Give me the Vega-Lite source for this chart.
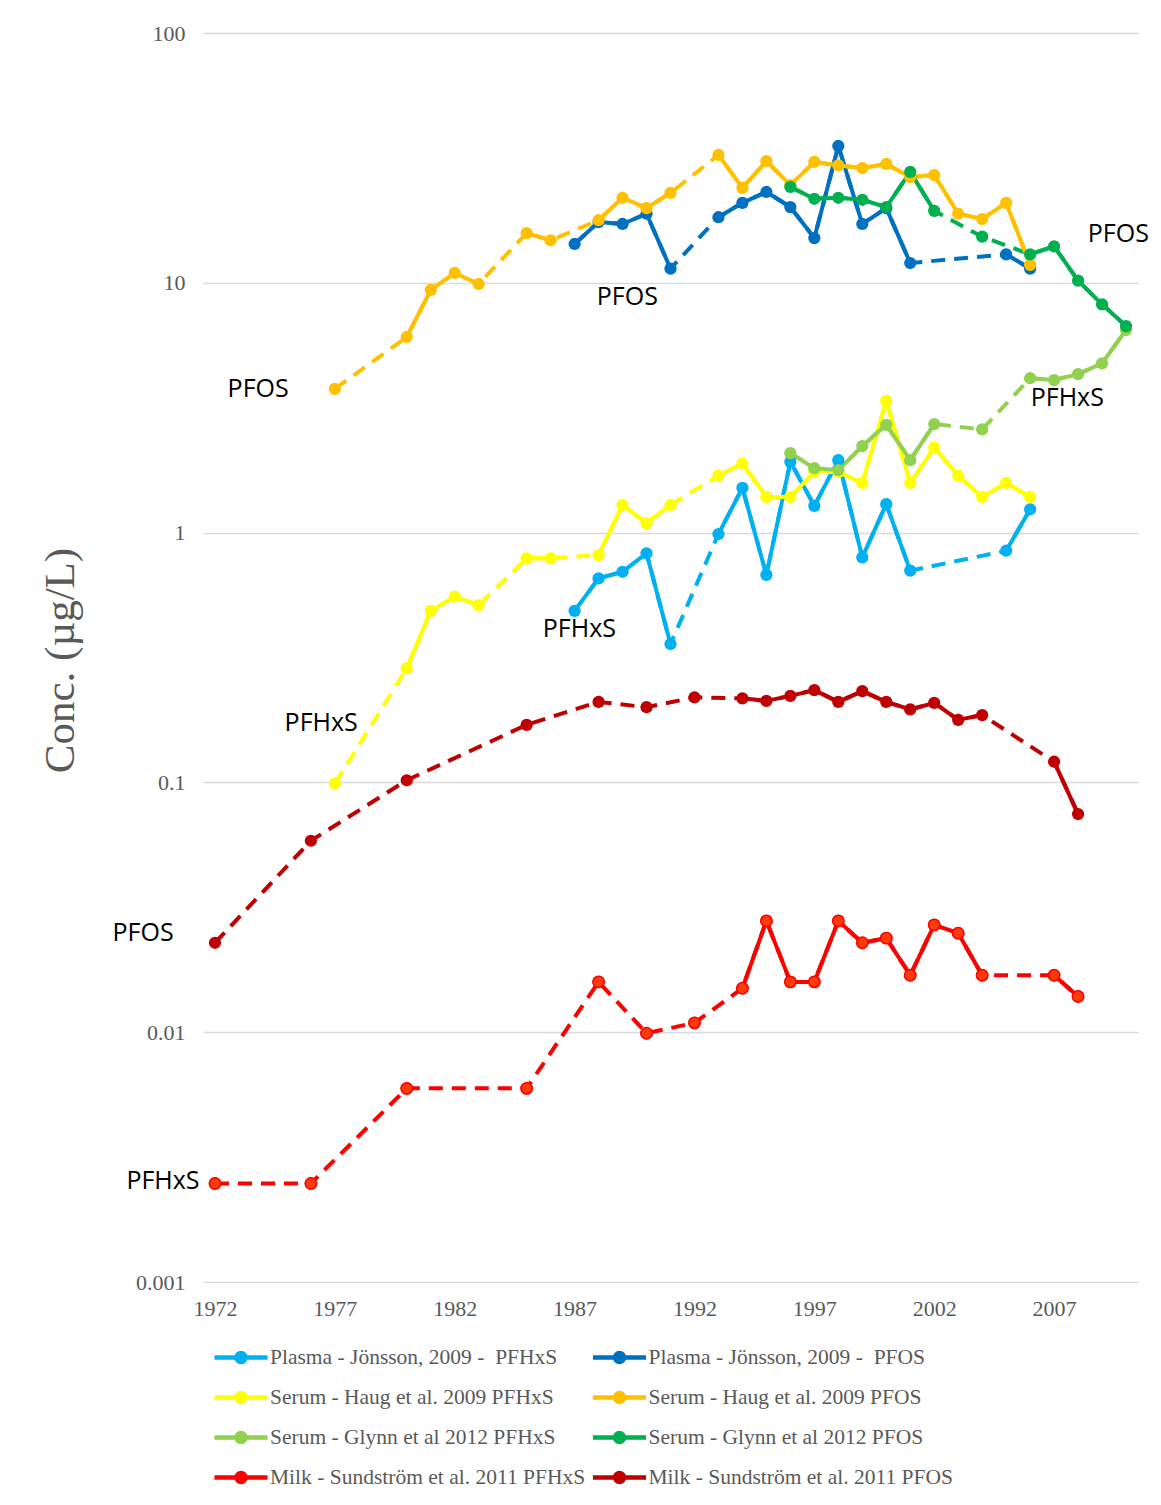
{
  "$schema": "https://vega.github.io/schema/vega-lite/v6.json",
  "width": 935,
  "height": 1249,
  "autosize": "none",
  "padding": {"left": 203, "top": 33, "right": 23, "bottom": 223},
  "background": "white",
  "config": {"view": {"stroke": null}},
  "datasets": {
    "conc": [
      {"s": "Plasma - Jönsson, 2009 -  PFHxS", "yr": 1987, "v": 0.486},
      {"s": "Plasma - Jönsson, 2009 -  PFHxS", "yr": 1988, "v": 0.656},
      {"s": "Plasma - Jönsson, 2009 -  PFHxS", "yr": 1989, "v": 0.697},
      {"s": "Plasma - Jönsson, 2009 -  PFHxS", "yr": 1990, "v": 0.826},
      {"s": "Plasma - Jönsson, 2009 -  PFHxS", "yr": 1991, "v": 0.358},
      {"s": "Plasma - Jönsson, 2009 -  PFHxS", "yr": 1993, "v": 0.987},
      {"s": "Plasma - Jönsson, 2009 -  PFHxS", "yr": 1994, "v": 1.51},
      {"s": "Plasma - Jönsson, 2009 -  PFHxS", "yr": 1995, "v": 0.677},
      {"s": "Plasma - Jönsson, 2009 -  PFHxS", "yr": 1996, "v": 1.92},
      {"s": "Plasma - Jönsson, 2009 -  PFHxS", "yr": 1997, "v": 1.28},
      {"s": "Plasma - Jönsson, 2009 -  PFHxS", "yr": 1998, "v": 1.95},
      {"s": "Plasma - Jönsson, 2009 -  PFHxS", "yr": 1999, "v": 0.796},
      {"s": "Plasma - Jönsson, 2009 -  PFHxS", "yr": 2000, "v": 1.30},
      {"s": "Plasma - Jönsson, 2009 -  PFHxS", "yr": 2001, "v": 0.704},
      {"s": "Plasma - Jönsson, 2009 -  PFHxS", "yr": 2005, "v": 0.846},
      {"s": "Plasma - Jönsson, 2009 -  PFHxS", "yr": 2006, "v": 1.24},

      {"s": "Plasma - Jönsson, 2009 -  PFOS", "yr": 1987, "v": 14.3},
      {"s": "Plasma - Jönsson, 2009 -  PFOS", "yr": 1988, "v": 17.5},
      {"s": "Plasma - Jönsson, 2009 -  PFOS", "yr": 1989, "v": 17.2},
      {"s": "Plasma - Jönsson, 2009 -  PFOS", "yr": 1990, "v": 18.9},
      {"s": "Plasma - Jönsson, 2009 -  PFOS", "yr": 1991, "v": 11.4},
      {"s": "Plasma - Jönsson, 2009 -  PFOS", "yr": 1993, "v": 18.3},
      {"s": "Plasma - Jönsson, 2009 -  PFOS", "yr": 1994, "v": 20.9},
      {"s": "Plasma - Jönsson, 2009 -  PFOS", "yr": 1995, "v": 23.1},
      {"s": "Plasma - Jönsson, 2009 -  PFOS", "yr": 1996, "v": 20.1},
      {"s": "Plasma - Jönsson, 2009 -  PFOS", "yr": 1997, "v": 15.1},
      {"s": "Plasma - Jönsson, 2009 -  PFOS", "yr": 1998, "v": 35.3},
      {"s": "Plasma - Jönsson, 2009 -  PFOS", "yr": 1999, "v": 17.2},
      {"s": "Plasma - Jönsson, 2009 -  PFOS", "yr": 2000, "v": 19.9},
      {"s": "Plasma - Jönsson, 2009 -  PFOS", "yr": 2001, "v": 12.0},
      {"s": "Plasma - Jönsson, 2009 -  PFOS", "yr": 2005, "v": 13.0},
      {"s": "Plasma - Jönsson, 2009 -  PFOS", "yr": 2006, "v": 11.4},

      {"s": "Serum - Haug et al. 2009 PFHxS", "yr": 1977, "v": 0.099},
      {"s": "Serum - Haug et al. 2009 PFHxS", "yr": 1980, "v": 0.286},
      {"s": "Serum - Haug et al. 2009 PFHxS", "yr": 1981, "v": 0.486},
      {"s": "Serum - Haug et al. 2009 PFHxS", "yr": 1982, "v": 0.554},
      {"s": "Serum - Haug et al. 2009 PFHxS", "yr": 1983, "v": 0.513},
      {"s": "Serum - Haug et al. 2009 PFHxS", "yr": 1985, "v": 0.789},
      {"s": "Serum - Haug et al. 2009 PFHxS", "yr": 1986, "v": 0.789},
      {"s": "Serum - Haug et al. 2009 PFHxS", "yr": 1988, "v": 0.813},
      {"s": "Serum - Haug et al. 2009 PFHxS", "yr": 1989, "v": 1.29},
      {"s": "Serum - Haug et al. 2009 PFHxS", "yr": 1990, "v": 1.09},
      {"s": "Serum - Haug et al. 2009 PFHxS", "yr": 1991, "v": 1.29},
      {"s": "Serum - Haug et al. 2009 PFHxS", "yr": 1993, "v": 1.69},
      {"s": "Serum - Haug et al. 2009 PFHxS", "yr": 1994, "v": 1.89},
      {"s": "Serum - Haug et al. 2009 PFHxS", "yr": 1995, "v": 1.39},
      {"s": "Serum - Haug et al. 2009 PFHxS", "yr": 1996, "v": 1.39},
      {"s": "Serum - Haug et al. 2009 PFHxS", "yr": 1997, "v": 1.75},
      {"s": "Serum - Haug et al. 2009 PFHxS", "yr": 1998, "v": 1.75},
      {"s": "Serum - Haug et al. 2009 PFHxS", "yr": 1999, "v": 1.58},
      {"s": "Serum - Haug et al. 2009 PFHxS", "yr": 2000, "v": 3.37},
      {"s": "Serum - Haug et al. 2009 PFHxS", "yr": 2001, "v": 1.58},
      {"s": "Serum - Haug et al. 2009 PFHxS", "yr": 2002, "v": 2.19},
      {"s": "Serum - Haug et al. 2009 PFHxS", "yr": 2003, "v": 1.69},
      {"s": "Serum - Haug et al. 2009 PFHxS", "yr": 2004, "v": 1.39},
      {"s": "Serum - Haug et al. 2009 PFHxS", "yr": 2005, "v": 1.58},
      {"s": "Serum - Haug et al. 2009 PFHxS", "yr": 2006, "v": 1.39},

      {"s": "Serum - Haug et al. 2009 PFOS", "yr": 1977, "v": 3.76},
      {"s": "Serum - Haug et al. 2009 PFOS", "yr": 1980, "v": 6.07},
      {"s": "Serum - Haug et al. 2009 PFOS", "yr": 1981, "v": 9.36},
      {"s": "Serum - Haug et al. 2009 PFOS", "yr": 1982, "v": 10.95},
      {"s": "Serum - Haug et al. 2009 PFOS", "yr": 1983, "v": 9.89},
      {"s": "Serum - Haug et al. 2009 PFOS", "yr": 1985, "v": 15.8},
      {"s": "Serum - Haug et al. 2009 PFOS", "yr": 1986, "v": 14.8},
      {"s": "Serum - Haug et al. 2009 PFOS", "yr": 1988, "v": 17.8},
      {"s": "Serum - Haug et al. 2009 PFOS", "yr": 1989, "v": 21.9},
      {"s": "Serum - Haug et al. 2009 PFOS", "yr": 1990, "v": 19.9},
      {"s": "Serum - Haug et al. 2009 PFOS", "yr": 1991, "v": 22.9},
      {"s": "Serum - Haug et al. 2009 PFOS", "yr": 1993, "v": 32.5},
      {"s": "Serum - Haug et al. 2009 PFOS", "yr": 1994, "v": 24.0},
      {"s": "Serum - Haug et al. 2009 PFOS", "yr": 1995, "v": 30.7},
      {"s": "Serum - Haug et al. 2009 PFOS", "yr": 1996, "v": 24.6},
      {"s": "Serum - Haug et al. 2009 PFOS", "yr": 1997, "v": 30.5},
      {"s": "Serum - Haug et al. 2009 PFOS", "yr": 1998, "v": 29.5},
      {"s": "Serum - Haug et al. 2009 PFOS", "yr": 1999, "v": 28.8},
      {"s": "Serum - Haug et al. 2009 PFOS", "yr": 2000, "v": 29.9},
      {"s": "Serum - Haug et al. 2009 PFOS", "yr": 2001, "v": 26.5},
      {"s": "Serum - Haug et al. 2009 PFOS", "yr": 2002, "v": 27.0},
      {"s": "Serum - Haug et al. 2009 PFOS", "yr": 2003, "v": 18.9},
      {"s": "Serum - Haug et al. 2009 PFOS", "yr": 2004, "v": 18.0},
      {"s": "Serum - Haug et al. 2009 PFOS", "yr": 2005, "v": 20.9},
      {"s": "Serum - Haug et al. 2009 PFOS", "yr": 2006, "v": 11.8},

      {"s": "Serum - Glynn et al 2012 PFHxS", "yr": 1996, "v": 2.08},
      {"s": "Serum - Glynn et al 2012 PFHxS", "yr": 1997, "v": 1.81},
      {"s": "Serum - Glynn et al 2012 PFHxS", "yr": 1998, "v": 1.78},
      {"s": "Serum - Glynn et al 2012 PFHxS", "yr": 1999, "v": 2.22},
      {"s": "Serum - Glynn et al 2012 PFHxS", "yr": 2000, "v": 2.70},
      {"s": "Serum - Glynn et al 2012 PFHxS", "yr": 2001, "v": 1.95},
      {"s": "Serum - Glynn et al 2012 PFHxS", "yr": 2002, "v": 2.72},
      {"s": "Serum - Glynn et al 2012 PFHxS", "yr": 2004, "v": 2.59},
      {"s": "Serum - Glynn et al 2012 PFHxS", "yr": 2006, "v": 4.15},
      {"s": "Serum - Glynn et al 2012 PFHxS", "yr": 2007, "v": 4.08},
      {"s": "Serum - Glynn et al 2012 PFHxS", "yr": 2008, "v": 4.31},
      {"s": "Serum - Glynn et al 2012 PFHxS", "yr": 2009, "v": 4.76},
      {"s": "Serum - Glynn et al 2012 PFHxS", "yr": 2010, "v": 6.47},

      {"s": "Serum - Glynn et al 2012 PFOS", "yr": 1996, "v": 24.2},
      {"s": "Serum - Glynn et al 2012 PFOS", "yr": 1997, "v": 21.7},
      {"s": "Serum - Glynn et al 2012 PFOS", "yr": 1998, "v": 21.9},
      {"s": "Serum - Glynn et al 2012 PFOS", "yr": 1999, "v": 21.5},
      {"s": "Serum - Glynn et al 2012 PFOS", "yr": 2000, "v": 20.1},
      {"s": "Serum - Glynn et al 2012 PFOS", "yr": 2001, "v": 27.8},
      {"s": "Serum - Glynn et al 2012 PFOS", "yr": 2002, "v": 19.4},
      {"s": "Serum - Glynn et al 2012 PFOS", "yr": 2004, "v": 15.3},
      {"s": "Serum - Glynn et al 2012 PFOS", "yr": 2006, "v": 13.0},
      {"s": "Serum - Glynn et al 2012 PFOS", "yr": 2007, "v": 14.0},
      {"s": "Serum - Glynn et al 2012 PFOS", "yr": 2008, "v": 10.2},
      {"s": "Serum - Glynn et al 2012 PFOS", "yr": 2009, "v": 8.2},
      {"s": "Serum - Glynn et al 2012 PFOS", "yr": 2010, "v": 6.71},

      {"s": "Milk - Sundström et al. 2011 PFHxS", "yr": 1972, "v": 0.00248},
      {"s": "Milk - Sundström et al. 2011 PFHxS", "yr": 1976, "v": 0.00248},
      {"s": "Milk - Sundström et al. 2011 PFHxS", "yr": 1980, "v": 0.00596},
      {"s": "Milk - Sundström et al. 2011 PFHxS", "yr": 1985, "v": 0.00596},
      {"s": "Milk - Sundström et al. 2011 PFHxS", "yr": 1988, "v": 0.0159},
      {"s": "Milk - Sundström et al. 2011 PFHxS", "yr": 1990, "v": 0.0099},
      {"s": "Milk - Sundström et al. 2011 PFHxS", "yr": 1992, "v": 0.0109},
      {"s": "Milk - Sundström et al. 2011 PFHxS", "yr": 1994, "v": 0.0150},
      {"s": "Milk - Sundström et al. 2011 PFHxS", "yr": 1995, "v": 0.0279},
      {"s": "Milk - Sundström et al. 2011 PFHxS", "yr": 1996, "v": 0.0159},
      {"s": "Milk - Sundström et al. 2011 PFHxS", "yr": 1997, "v": 0.0159},
      {"s": "Milk - Sundström et al. 2011 PFHxS", "yr": 1998, "v": 0.0279},
      {"s": "Milk - Sundström et al. 2011 PFHxS", "yr": 1999, "v": 0.0228},
      {"s": "Milk - Sundström et al. 2011 PFHxS", "yr": 2000, "v": 0.0238},
      {"s": "Milk - Sundström et al. 2011 PFHxS", "yr": 2001, "v": 0.0169},
      {"s": "Milk - Sundström et al. 2011 PFHxS", "yr": 2002, "v": 0.0269},
      {"s": "Milk - Sundström et al. 2011 PFHxS", "yr": 2003, "v": 0.0249},
      {"s": "Milk - Sundström et al. 2011 PFHxS", "yr": 2004, "v": 0.0169},
      {"s": "Milk - Sundström et al. 2011 PFHxS", "yr": 2007, "v": 0.0169},
      {"s": "Milk - Sundström et al. 2011 PFHxS", "yr": 2008, "v": 0.0139},

      {"s": "Milk - Sundström et al. 2011 PFOS", "yr": 1972, "v": 0.0228},
      {"s": "Milk - Sundström et al. 2011 PFOS", "yr": 1976, "v": 0.0584},
      {"s": "Milk - Sundström et al. 2011 PFOS", "yr": 1980, "v": 0.102},
      {"s": "Milk - Sundström et al. 2011 PFOS", "yr": 1985, "v": 0.170},
      {"s": "Milk - Sundström et al. 2011 PFOS", "yr": 1988, "v": 0.210},
      {"s": "Milk - Sundström et al. 2011 PFOS", "yr": 1990, "v": 0.200},
      {"s": "Milk - Sundström et al. 2011 PFOS", "yr": 1992, "v": 0.219},
      {"s": "Milk - Sundström et al. 2011 PFOS", "yr": 1994, "v": 0.217},
      {"s": "Milk - Sundström et al. 2011 PFOS", "yr": 1995, "v": 0.212},
      {"s": "Milk - Sundström et al. 2011 PFOS", "yr": 1996, "v": 0.222},
      {"s": "Milk - Sundström et al. 2011 PFOS", "yr": 1997, "v": 0.234},
      {"s": "Milk - Sundström et al. 2011 PFOS", "yr": 1998, "v": 0.210},
      {"s": "Milk - Sundström et al. 2011 PFOS", "yr": 1999, "v": 0.232},
      {"s": "Milk - Sundström et al. 2011 PFOS", "yr": 2000, "v": 0.210},
      {"s": "Milk - Sundström et al. 2011 PFOS", "yr": 2001, "v": 0.196},
      {"s": "Milk - Sundström et al. 2011 PFOS", "yr": 2002, "v": 0.208},
      {"s": "Milk - Sundström et al. 2011 PFOS", "yr": 2003, "v": 0.178},
      {"s": "Milk - Sundström et al. 2011 PFOS", "yr": 2004, "v": 0.186},
      {"s": "Milk - Sundström et al. 2011 PFOS", "yr": 2007, "v": 0.121},
      {"s": "Milk - Sundström et al. 2011 PFOS", "yr": 2008, "v": 0.0747}
    ],
    "notes": [
      {"t": "PFOS", "yr": 1973.8, "v": 3.76},
      {"t": "PFOS", "yr": 1989.2, "v": 8.77},
      {"t": "PFOS", "yr": 2009.68, "v": 15.68},
      {"t": "PFHxS", "yr": 2007.55, "v": 3.46},
      {"t": "PFHxS", "yr": 1987.2, "v": 0.411},
      {"t": "PFHxS", "yr": 1976.43, "v": 0.173},
      {"t": "PFOS", "yr": 1969.0, "v": 0.0249},
      {"t": "PFHxS", "yr": 1969.83, "v": 0.00254}
    ]
  },
  "encoding": {
    "x": {
      "field": "yr", "type": "quantitative",
      "scale": {"domain": [1971.5, 2010.5], "nice": false, "zero": false},
      "axis": {
        "title": null, "values": [1972, 1977, 1982, 1987, 1992, 1997, 2002, 2007],
        "format": "d", "grid": false, "domain": false, "ticks": false,
        "labelFont": "Liberation Serif", "labelFontSize": 22, "labelColor": "#595959",
        "labelPadding": 16
      }
    },
    "y": {
      "field": "v", "type": "quantitative",
      "scale": {"type": "log", "domain": [0.001, 100], "nice": false},
      "axis": {
        "title": "Conc. (µg/L)", "values": [0.001, 0.01, 0.1, 1, 10, 100], "format": "~g",
        "grid": true, "gridColor": "#D9D9D9", "gridWidth": 1.5,
        "domain": false, "ticks": false,
        "labelFont": "Liberation Serif", "labelFontSize": 22, "labelColor": "#595959",
        "labelPadding": 18,
        "titleFont": "Liberation Serif", "titleFontSize": 43, "titleFontWeight": "normal",
        "titleColor": "#595959", "titleX": -143, "titleY": 627, "titleAngle": -90,
        "titleAlign": "center", "titleBaseline": "middle"
      }
    }
  },
  "layer": [
    {
      "data": {"name": "conc"},
      "transform": [
        {"window": [{"op": "lag", "field": "yr", "as": "prev"}], "groupby": ["s"], "sort": [{"field": "yr", "order": "ascending"}]},
        {"calculate": "datum.prev == null || datum.yr - datum.prev > 1 ? 1 : 0", "as": "brk"},
        {"window": [{"op": "sum", "field": "brk", "as": "run"}], "groupby": ["s"], "sort": [{"field": "yr", "order": "ascending"}], "frame": [null, 0]}
      ],
      "encoding": {
        "color": {
          "field": "s", "type": "nominal",
          "scale": {
            "domain": [
              "Plasma - Jönsson, 2009 -  PFHxS", "Plasma - Jönsson, 2009 -  PFOS",
              "Serum - Haug et al. 2009 PFHxS", "Serum - Haug et al. 2009 PFOS",
              "Serum - Glynn et al 2012 PFHxS", "Serum - Glynn et al 2012 PFOS",
              "Milk - Sundström et al. 2011 PFHxS", "Milk - Sundström et al. 2011 PFOS"
            ],
            "range": ["#00B0F0", "#0070C0", "#FFFF00", "#FFC000", "#92D050", "#00B050", "#FF0000", "#C00000"]
          },
          "legend": {
            "title": null, "orient": "none", "legendX": 20.5, "legendY": 1307,
            "direction": "horizontal", "columns": 2, "columnPadding": -2.5, "rowPadding": 9,
            "padding": 0,
            "symbolType": "M-1.77,0L1.77,0M-0.3,0a0.3,0.3 0 1,0 0.6,0a0.3,0.3 0 1,0 -0.6,0Z",
            "symbolSize": 900, "symbolStrokeWidth": 4.5, "symbolOpacity": 1,
            "labelFont": "Liberation Serif", "labelFontSize": 21.5, "labelColor": "#595959",
            "labelOffset": 11.5, "labelLimit": 500,
            "labelExpr": "replace(datum.label, '-  P', '-\u00a0 P')",
            "encode": {
              "symbols": {
                "update": {
                  "fill": {"scale": "color", "field": "value"},
                  "stroke": {"scale": "color", "field": "value"},
                  "opacity": {"value": 1}
                }
              }
            }
          }
        }
      },
      "layer": [
        {"mark": {"type": "line", "strokeWidth": 4, "strokeDash": [14, 9], "strokeCap": "butt"}},
        {"mark": {"type": "line", "strokeWidth": 4, "strokeJoin": "round", "strokeCap": "round"},
         "encoding": {"detail": {"field": "run", "type": "nominal"}}},
        {"mark": {"type": "point", "filled": true, "size": 150, "opacity": 1, "shape": "circle"}},
        {"transform": [{"filter": "datum.s === 'Milk - Sundström et al. 2011 PFHxS'"}],
         "mark": {"type": "point", "filled": true, "size": 130, "opacity": 1, "shape": "circle", "stroke": "#FF0000", "strokeWidth": 1.5},
         "encoding": {"color": {"value": "#FF3A0A"}}}
      ]
    },
    {
      "data": {"name": "notes"},
      "mark": {"type": "text", "font": "Open Sans", "fontSize": 25, "color": "#000000", "align": "center", "baseline": "middle"},
      "encoding": {"text": {"field": "t", "type": "nominal"}}
    }
  ]
}
